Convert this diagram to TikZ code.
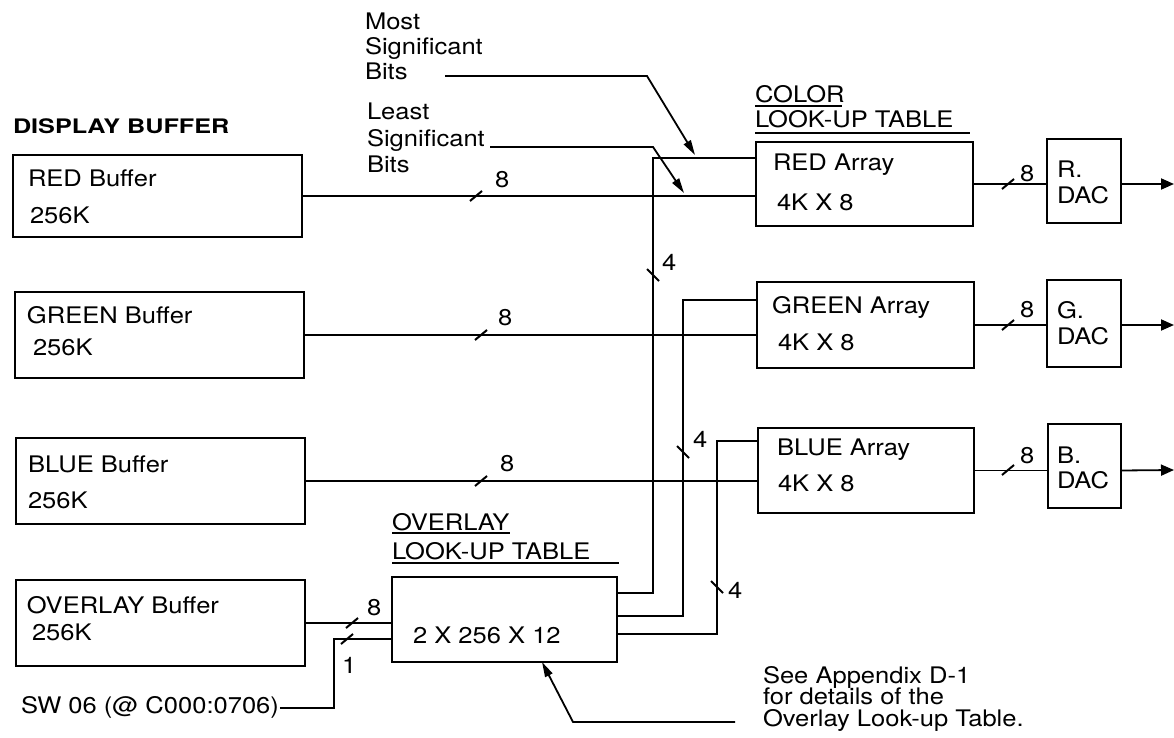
\documentclass[tikz,border=0pt]{standalone}
\usepackage{fontspec}
\setmainfont{TeX Gyre Heros}[FakeStretch=1.12]
\newfontfamily\dispfont{TeX Gyre Heros}[FakeStretch=1.26]
\usetikzlibrary{arrows.meta,calc}
\begin{document}
\begin{tikzpicture}[x=1pt,y=-1pt,
  every node/.style={inner sep=0pt,outer sep=0pt},
  box/.style={draw,line width=2.6pt,anchor=north west,inner sep=0pt},
  tx/.style={anchor=base west,font=\fontsize{22.8}{26}\selectfont},
  wire/.style={line width=1.8pt},
  tk/.style={line width=2pt},
  ul/.style={line width=1.5pt},
  ann/.style={line width=1.8pt,-{Triangle[length=15pt,width=8pt]}},
  outarr/.style={line width=1.8pt,-{Triangle[length=13pt,width=11pt]}}]
\useasboundingbox (0,0) rectangle (1174,738);

% ---- display buffers
\node[anchor=base west,font=\dispfont\bfseries\fontsize{20}{24}\selectfont] (dbt) at (13,134) {DISPLAY BUFFER};
\node[box,minimum width=289pt,minimum height=82pt] (redbuf) at (13,155) {};
\node[box,minimum width=289pt,minimum height=86pt] (greenbuf) at (15,292) {};
\node[box,minimum width=289pt,minimum height=86pt] (bluebuf) at (16,438) {};
\node[box,minimum width=289pt,minimum height=86pt] (ovbuf) at (16,580) {};
\node[tx] (rb1) at (28,186) {RED Buffer};
\node[tx] (rb2) at (30,223) {256K};
\node[tx] (gb1) at (27,323) {GREEN Buffer};
\node[tx] (gb2) at (33,355) {256K};
\node[tx] (bb1) at (28,472) {BLUE Buffer};
\node[tx] (bb2) at (28,508) {256K};
\node[tx] (ob1) at (27,613) {OVERLAY Buffer};
\node[tx] (ob2) at (32,640) {256K};

% ---- color look-up table
\node[tx] (clt1) at (755,103) {COLOR};
\node[tx] (clt2) at (755,128) {LOOK-UP TABLE};
\draw[ul] (755,106) -- (842,106);
\draw[ul] (755,133) -- (970,133);
\node[box,minimum width=217pt,minimum height=84pt] (redarr) at (756,142) {};
\node[box,minimum width=217pt,minimum height=86pt] (greenarr) at (757,282) {};
\node[box,minimum width=216pt,minimum height=85pt] (bluearr) at (758,428) {};
\node[tx] (ra1) at (773,171) {RED Array};
\node[tx] (ra2) at (777,210) {4K X 8};
\node[tx] (ga1) at (772,313) {GREEN Array};
\node[tx] (ga2) at (778,350) {4K X 8};
\node[tx] (ba1) at (777,455) {BLUE Array};
\node[tx] (ba2) at (778,491) {4K X 8};

% ---- DACs
\node[box,minimum width=74pt,minimum height=84pt] (rdac) at (1047,139) {};
\node[box,minimum width=74pt,minimum height=87pt] (gdac) at (1047,280) {};
\node[box,minimum width=73pt,minimum height=84pt] (bdac) at (1048,424) {};
\node[tx] (rd1) at (1057,178) {R.};
\node[tx] (rd2) at (1057,203) {DAC};
\node[tx] (gd1) at (1057,318) {G.};
\node[tx] (gd2) at (1057,344) {DAC};
\node[tx] (bd1) at (1057,463) {B.};
\node[tx] (bd2) at (1057,488) {DAC};

% ---- overlay look-up table
\node[tx] (olt1) at (392,530) {OVERLAY};
\node[tx] (olt2) at (392,559) {LOOK-UP TABLE};
\draw[ul] (392,533) -- (510,533);
\draw[ul] (392,563) -- (619,563);
\node[box,minimum width=225pt,minimum height=85pt] (ovlut) at (392,577) {};
\node[tx] (ol1) at (413,643) {2 X 256 X 12};

% ---- buffer -> array wires
\draw[wire] (redbuf.east) -- (redbuf.east -| redarr.west);
\draw[wire] (greenbuf.east) -- (greenbuf.east -| greenarr.west);
\draw[wire] (bluebuf.east) -- (bluebuf.east -| bluearr.west);
\draw[tk] (476,196) +(-6,5) -- +(6,-5);
\draw[tk] (481,335) +(-6,5) -- +(6,-5);
\draw[tk] (481,481) +(-6,5) -- +(6,-5);
\node[tx] (n8r) at (495,188) {8};
\node[tx] (n8g) at (498,325) {8};
\node[tx] (n8b) at (500,471) {8};

% ---- overlay buffer -> overlay LUT
\draw[wire] (ovbuf.east) -- (ovbuf.east -| ovlut.west);
\draw[tk] (352,623) +(-6,5) -- +(6,-5);
\node[tx] (n8o) at (367,615) {8};
\node[tx] (sw) at (21,713) {SW 06 (@ C000:0706)};
\coordinate (ovin2) at (392,639);
\coordinate (swbend) at (334,639);
\draw[wire] ([xshift=1pt,yshift=5pt]sw.base east) -| (swbend) -- (ovin2);
\draw[tk] (347,639) +(-6,5) -- +(6,-5);
\node[tx] (n1) at (342,673) {1};

% ---- overlay LUT -> arrays (MSB)
\coordinate (ov1) at (617,593);
\coordinate (ov2) at (617,616);
\coordinate (ov3) at (617,634);
\coordinate (rmsb) at (756,158);
\coordinate (gmsb) at (757,300);
\coordinate (bmsb) at (758,441);
\draw[wire] (ov1) -| (653,158) -- (rmsb);
\draw[wire] (ov2) -| (683,300) -- (gmsb);
\draw[wire] (ov3) -| (717,441) -- (bmsb);
\draw[tk] (653,275) +(-6,-6) -- +(6,6);
\draw[tk] (683,452) +(-6,-6) -- +(6,6);
\draw[tk] (717,587) +(-6,-6) -- +(6,6);
\node[tx] (n4r) at (662,270) {4};
\node[tx] (n4g) at (693,447) {4};
\node[tx] (n4b) at (728,598) {4};

% ---- arrays -> DACs -> out
\draw[wire] (redarr.east) -- (redarr.east -| rdac.west);
\draw[wire] (greenarr.east) -- (greenarr.east -| gdac.west);
\draw[wire] (bluearr.east) -- (bluearr.east -| bdac.west);
\draw[tk] (1008,184) +(-6,5) -- +(6,-5);
\draw[tk] (1008,325) +(-6,5) -- +(6,-5);
\draw[tk] (1008,470) +(-6,5) -- +(6,-5);
\node[tx] (n8ro) at (1020,182) {8};
\node[tx] (n8go) at (1020,317) {8};
\node[tx] (n8bo) at (1020,463) {8};
\coordinate (rout) at (1174,184);
\coordinate (gout) at (1174,325);
\coordinate (bout) at (1174,470);
\draw[outarr] (redarr.east -| rdac.east) -- (rout);
\draw[outarr] (greenarr.east -| gdac.east) -- (gout);
\draw[outarr] (bluearr.east -| bdac.east) -- (bout);

% ---- annotations
\node[tx] (m1) at (365,30) {Most};
\node[tx] (m2) at (365,55) {Significant};
\node[tx] (m3) at (365,80) {Bits};
\node[tx] (l1) at (367,120) {Least};
\node[tx] (l2) at (367,147) {Significant};
\node[tx] (l3) at (367,172) {Bits};
\coordinate (msbs) at (445,76);
\coordinate (msbk) at (647,76);
\coordinate (msbt) at (695,155);
\draw[ann] (msbs) -- (msbk) -- (msbt);
\coordinate (lsbs) at (490,147);
\coordinate (lsbk) at (653,147);
\coordinate (lsbt) at (684,193);
\draw[ann] (lsbs) -- (lsbk) -- (lsbt);

\node[tx] (a1) at (763,683) {See Appendix D-1};
\node[tx] (a2) at (763,704) {for details of the};
\node[tx] (a3) at (763,726) {Overlay Look-up Table.};
\coordinate (as) at (735,722);
\coordinate (ak) at (573,722);
\coordinate (at) at (542,662);
\draw[ann] (as) -- (ak) -- (at);
\end{tikzpicture}
\end{document}
